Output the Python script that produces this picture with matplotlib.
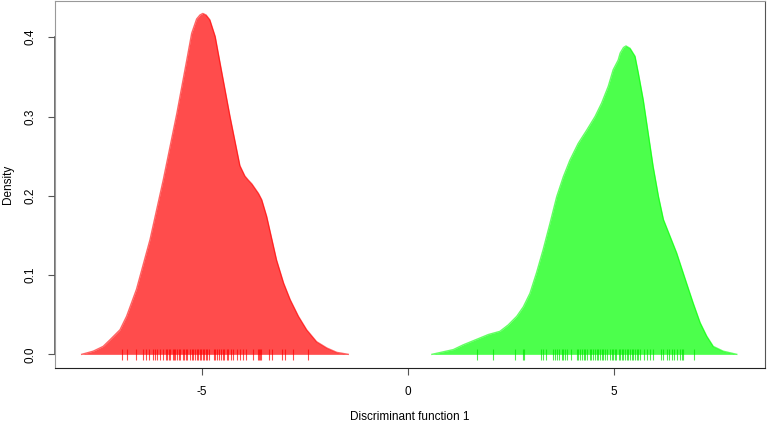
import numpy as np
import matplotlib.pyplot as plt

plt.rcParams['font.family'] = ['Liberation Sans', 'DejaVu Sans']
plt.rcParams['axes.unicode_minus'] = False

# density curve of group 1 (red)
red_x = [-7.92, -7.64, -7.40, -7.23, -6.99, -6.83, -6.59, -6.26, -5.94, -5.61,
         -5.37, -5.25, -5.13, -5.05, -4.98, -4.90, -4.81, -4.68, -4.56, -4.32,
         -4.08, -3.96, -3.88, -3.79, -3.63, -3.55, -3.43, -3.19, -3.02, -2.86,
         -2.66, -2.46, -2.22, -1.97, -1.73, -1.45]
red_y = [0.000, 0.004, 0.010, 0.0185, 0.031, 0.048, 0.082, 0.145, 0.220, 0.304,
         0.371, 0.405, 0.423, 0.428, 0.430, 0.428, 0.422, 0.401, 0.367, 0.300,
         0.238, 0.225, 0.220, 0.215, 0.203, 0.195, 0.174, 0.119, 0.090, 0.069,
         0.048, 0.031, 0.016, 0.008, 0.0025, 0.000]

# density curve of group 2 (green)
green_x = [0.58, 1.10, 1.34, 1.67, 1.95, 2.23, 2.43, 2.64, 2.80, 2.96, 3.12,
           3.28, 3.45, 3.61, 3.77, 3.93, 4.13, 4.34, 4.54, 4.70, 4.86, 4.98,
           5.10, 5.15, 5.23, 5.29, 5.39, 5.51, 5.59, 5.71, 5.83, 5.95, 6.08,
           6.20, 6.36, 6.52, 6.76, 6.92, 7.09, 7.25, 7.41, 7.65, 7.98]
green_y = [0.000, 0.006, 0.012, 0.019, 0.025, 0.029, 0.037, 0.048, 0.060, 0.077,
           0.103, 0.132, 0.166, 0.199, 0.224, 0.245, 0.266, 0.283, 0.300, 0.317,
           0.338, 0.359, 0.371, 0.380, 0.387, 0.389, 0.386, 0.376, 0.355, 0.321,
           0.279, 0.237, 0.199, 0.170, 0.149, 0.128, 0.090, 0.065, 0.040, 0.023,
           0.010, 0.004, 0.000]

# individual scores (rug)
red_rug = [-6.95, -6.81, -6.61, -6.42, -6.36, -6.28, -6.20, -6.14, -6.09, -6.02,
           -5.95, -5.87, -5.84, -5.81, -5.78, -5.71, -5.68, -5.65, -5.61, -5.57,
           -5.53, -5.47, -5.44, -5.39, -5.36, -5.29, -5.25, -5.21, -5.17, -5.13,
           -5.09, -5.06, -5.03, -4.98, -4.95, -4.90, -4.87, -4.82, -4.71, -4.68,
           -4.63, -4.59, -4.55, -4.50, -4.47, -4.40, -4.36, -4.30, -4.24, -4.16,
           -4.08, -4.00, -3.92, -3.77, -3.65, -3.62, -3.59, -3.56, -3.37, -3.29,
           -3.07, -2.98, -2.79, -2.43]
green_rug = [1.68, 2.07, 2.59, 2.78, 2.82, 3.24, 3.28, 3.35, 3.51, 3.57, 3.61,
             3.67, 3.73, 3.77, 3.81, 3.85, 3.95, 4.09, 4.13, 4.17, 4.22, 4.26,
             4.30, 4.35, 4.42, 4.45, 4.48, 4.54, 4.58, 4.62, 4.66, 4.70, 4.74,
             4.78, 4.84, 4.90, 4.94, 4.98, 5.02, 5.06, 5.11, 5.15, 5.19, 5.23,
             5.27, 5.31, 5.35, 5.39, 5.43, 5.47, 5.51, 5.55, 5.59, 5.63, 5.73,
             5.79, 5.87, 5.95, 6.13, 6.20, 6.28, 6.34, 6.40, 6.46, 6.52, 6.59,
             6.64, 6.68, 6.95]

fig = plt.figure(figsize=(7.67, 4.23), dpi=100)
ax = fig.add_axes([54.7 / 767, 1 - 368.3 / 423, (765 - 54.7) / 767, (368.3 - 1) / 423])

ax.fill_between(red_x, red_y, color=(1, 0, 0), alpha=0.7, lw=0)
ax.plot(red_x, red_y, color=(1, 0, 0), alpha=0.6, lw=1, solid_joinstyle='round')
ax.fill_between(green_x, green_y, color=(0, 1, 0), alpha=0.7, lw=0)
ax.plot(green_x, green_y, color=(0, 1, 0), alpha=0.6, lw=1, solid_joinstyle='round')

ax.vlines(red_rug, -0.007, 0.007, color=(1, 0, 0), alpha=0.7, lw=0.8)
ax.vlines(green_rug, -0.007, 0.007, color=(0, 0.9, 0), alpha=0.7, lw=0.8)

ax.set_xlim(-8.575, 8.665)
ax.set_ylim(-0.0176, 0.4457)
ax.set_xticks([-5, 0, 5])
ax.set_yticks([0.0, 0.1, 0.2, 0.3, 0.4])
ax.set_yticklabels(['0.0', '0.1', '0.2', '0.3', '0.4'], rotation=90, va='center')
ax.tick_params(length=5, width=0.8, color='#555555', labelsize=8.5, pad=8)

ax.spines['top'].set_color('#999999')
ax.spines['left'].set_color('#999999')
ax.spines['right'].set_color('#555555')
ax.spines['bottom'].set_color('#222222')
# darker axis line between first and last y tick
ax.plot([-8.575, -8.575], [0.0, 0.4], color='#555555', lw=1.2, clip_on=False)

ax.set_xlabel('Discriminant function 1', fontsize=8.5, labelpad=9)
ax.set_ylabel('Density', fontsize=8.5, labelpad=8)

fig.savefig('out.png', dpi=100)
